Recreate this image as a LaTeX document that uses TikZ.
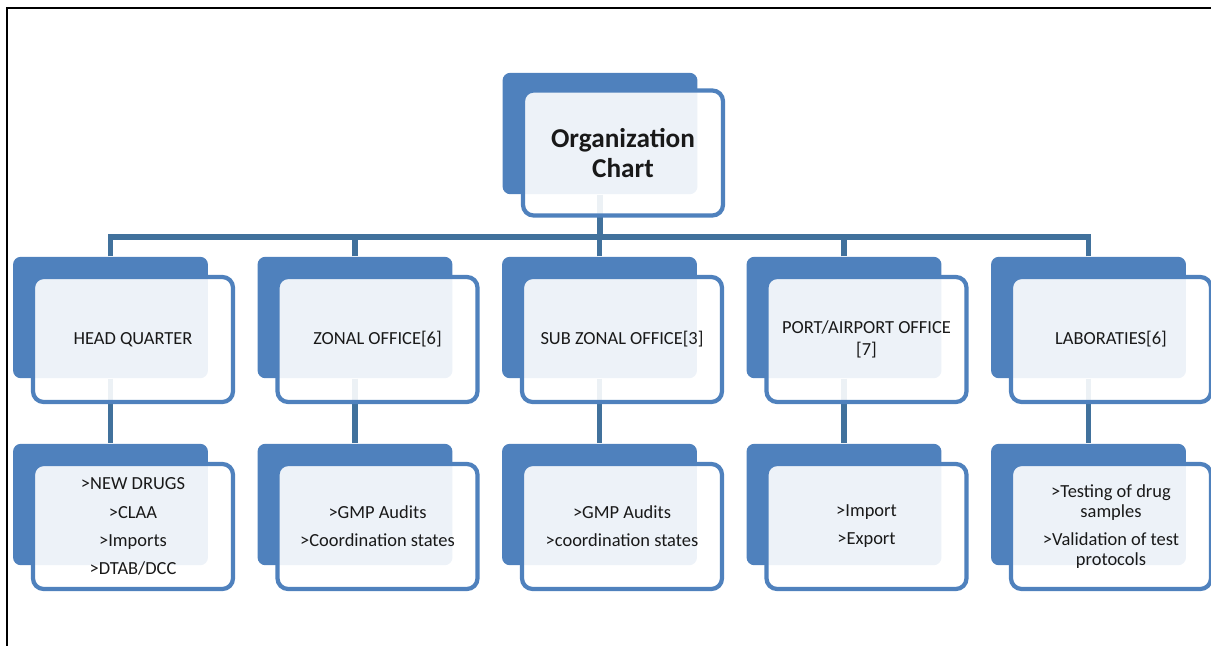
\documentclass[tikz,border=0pt]{standalone}
\usepackage{fontspec}
\setmainfont{Carlito}
\definecolor{boxblue}{HTML}{4F81BD}
\definecolor{linkblue}{HTML}{41719C}
\tikzset{
  back/.style={fill=boxblue,rounded corners=4.5pt,minimum width=3.9cm,minimum height=2.43cm,inner sep=0pt},
  front/.style={draw=boxblue,line width=2.4pt,fill=white,fill opacity=0.9,text opacity=1,rounded corners=6pt,
    minimum width=4.0cm,minimum height=2.5cm,align=center,text=black!90,font=\fontsize{10.5}{12.5}\selectfont},
  duty/.style={font=\fontsize{10.5}{16}\selectfont},
  link/.style={draw=linkblue,line width=3pt}
}
\begin{document}
\begin{tikzpicture}[x=0.02cm,y=-0.02cm]
\useasboundingbox (0,0) rectangle (1211,646);
% frame (only left and top edges show)
\draw[line width=1.4pt] (7,646) -- (7,8) -- (1211,8);
% dark back plates
\node[back] (org) at (600,133.5) {};
\node[back] (hq) at (110.5,317.5) {};
\node[back] (zonal) at (355,317.5) {};
\node[back] (subzonal) at (599.5,317.5) {};
\node[back] (port) at (844,317.5) {};
\node[back] (lab) at (1088.5,317.5) {};
\node[back] (hqjob) at (110.5,504.5) {};
\node[back] (zonaljob) at (355,504.5) {};
\node[back] (subzonaljob) at (599.5,504.5) {};
\node[back] (portjob) at (844,504.5) {};
\node[back] (labjob) at (1088.5,504.5) {};
% connectors, drawn before the cards so they show faintly through
\coordinate (bus) at (600,237);
\draw[link] (org.south) -- (bus);
\draw[link] (hq.north) |- (bus);
\draw[link] (zonal.north) |- (bus);
\draw[link] (subzonal.north) |- (bus);
\draw[link] (port.north) |- (bus);
\draw[link] (lab.north) |- (bus);
\draw[link] (hq.south) -- (hqjob.north);
\draw[link] (zonal.south) -- (zonaljob.north);
\draw[link] (subzonal.south) -- (subzonaljob.north);
\draw[link] (port.south) -- (portjob.north);
\draw[link] (lab.south) -- (labjob.north);
% light cards with the text
\node[front,font=\bfseries\fontsize{15.5}{17}\selectfont] (orgcard) at (623,153) {Organization\\Chart};
\node[front] (hqcard) at (133,339.5) {HEAD QUARTER};
\node[front] (zonalcard) at (377.5,339.5) {ZONAL OFFICE[6]};
\node[front] (subzonalcard) at (622,339.5) {SUB ZONAL OFFICE[3]};
\node[front] (portcard) at (866.5,339.5) {PORT/AIRPORT OFFICE\\{[7]}};
\node[front] (labcard) at (1111,339.5) {LABORATIES[6]};
\node[front,duty] (hqjobcard) at (133,526.5) {>NEW DRUGS\\>CLAA\\>Imports\\>DTAB/DCC};
\node[front,duty] (zonaljobcard) at (377.5,526.5) {>GMP Audits\\>Coordination states};
\node[front,duty] (subzonaljobcard) at (622,526.5) {>GMP Audits\\>coordination states};
\node[front,duty] (portjobcard) at (866.5,526.5) {>Import\\>Export};
\node[front,duty] (labjobcard) at (1111,526.5) {>Testing of drug\\[-4.7pt]samples\\>Validation of test\\[-4.7pt]protocols};
\end{tikzpicture}
\end{document}
